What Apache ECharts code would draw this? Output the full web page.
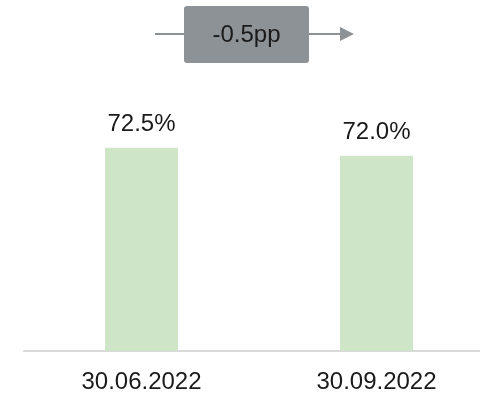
<!DOCTYPE html>
<html><head><meta charset="utf-8">
<script src="https://cdn.jsdelivr.net/npm/echarts@6/dist/echarts.min.js"></script>
<style>html,body{margin:0;padding:0;background:#fff;overflow:hidden}#c{width:494px;height:394px}</style>
</head><body><div id="c"></div>
<script>
const categories = ['30.06.2022', '30.09.2022'];
const values = [72.5, 72.0];
const deltaLabel = '-0.5pp';

const chart = echarts.init(document.getElementById('c'), null, {renderer: 'canvas'});
chart.setOption({
  animation: false,
  grid: {left: 24, right: 0, top: 25.6, bottom: 42},
  xAxis: {
    type: 'category', data: categories,
    axisLine: {lineStyle: {color: '#D9D9D9', width: 2}},
    axisTick: {show: false},
    axisLabel: {color: '#1a1a1a', fontSize: 24, fontFamily: 'Liberation Sans, Arial', margin: 19}
  },
  yAxis: {type: 'value', min: 60, max: 80, show: false, splitLine: {show: false}},
  series: [{
    type: 'bar', data: values, barWidth: 73,
    itemStyle: {color: '#CFE5C8'},
    label: {show: true, position: 'top', distance: 11, color: '#1a1a1a', fontSize: 24,
      fontFamily: 'Liberation Sans, Arial', formatter: p => p.value.toFixed(1) + '%'}
  }],
  graphic: [
    {type: 'line', shape: {x1: 155, y1: 34, x2: 184, y2: 34}, style: {stroke: '#8C9296', lineWidth: 2}},
    {type: 'line', shape: {x1: 309, y1: 34, x2: 341, y2: 34}, style: {stroke: '#8C9296', lineWidth: 2}},
    {type: 'polygon', shape: {points: [[340, 27], [354, 34], [340, 41]]}, style: {fill: '#8C9296'}},
    {type: 'rect', shape: {x: 184, y: 6, width: 125, height: 57, r: 3}, style: {fill: '#8C9296'}},
    {type: 'text', x: 246.5, y: 35, style: {text: deltaLabel, fill: '#1a1a1a', fontSize: 24,
      fontFamily: 'Liberation Sans, Arial', align: 'center', verticalAlign: 'middle'}}
  ]
});
</script></body></html>
